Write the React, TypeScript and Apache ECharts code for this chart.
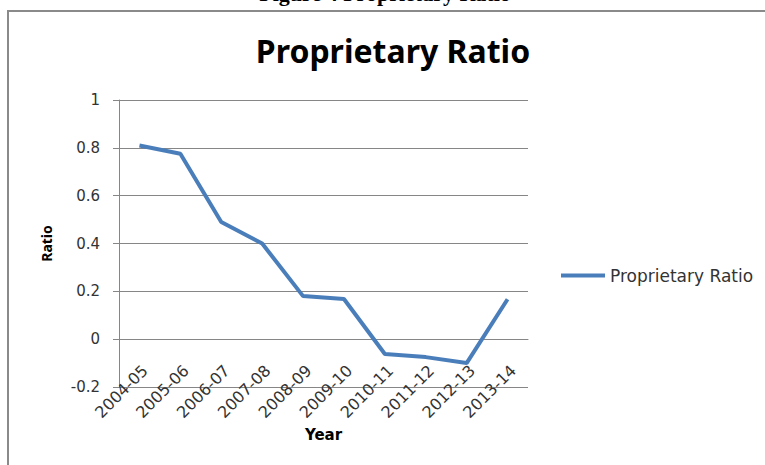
import React, { useEffect, useRef } from "react";
import * as echarts from "echarts";

const categories = ["2004-05", "2005-06", "2006-07", "2007-08", "2008-09", "2009-10", "2010-11", "2011-12", "2012-13", "2013-14"];
const ratioValues = [0.81, 0.775, 0.49, 0.4, 0.18, 0.168, -0.062, -0.075, -0.1, 0.167];
const seriesName = "Proprietary Ratio";
const chartTitle = "Proprietary Ratio";
const pageHeading = "Figure 4 Proprietary Ratio";
const yMin = -0.2;
const yMax = 1;
const yStep = 0.2;

export default function App() {
  const ref = useRef<HTMLDivElement>(null);
  useEffect(() => {
    if (!ref.current) return;
    const chart = echarts.init(ref.current, null, { renderer: "svg" });
    const font = "'Noto Sans', 'Open Sans', sans-serif";
    const labelFont = "'DejaVu Sans', 'Noto Sans', sans-serif";
    const gridTop = 100;
    const gridBottom = 78;
    const plotHeight = 465 - gridTop - gridBottom;
    // move the category axis up to the zero line (Excel-style crossing at 0)
    const zeroOffset = -plotHeight * ((0 - yMin) / (yMax - yMin));
    chart.setOption({
      animation: false,
      backgroundColor: "#ffffff",
      title: {
        text: chartTitle,
        left: 388,
        textAlign: "center",
        top: 29,
        textStyle: { fontFamily: font, fontWeight: "bold", fontSize: 32, color: "#000000" },
      },
      graphic: [
        {
          type: "rect",
          shape: { x: 8, y: 11, width: 820, height: 520 },
          style: { fill: "none", stroke: "#8a8a8a", lineWidth: 2 },
          silent: true,
        },
        {
          type: "text",
          x: 385,
          y: 4,
          style: {
            text: pageHeading,
            fontFamily: "'Liberation Serif', 'DejaVu Serif', serif",
            fontWeight: "bold",
            fontSize: 22,
            fill: "#000000",
            textAlign: "center",
            textVerticalAlign: "bottom",
          },
          silent: true,
        },
      ],
      legend: {
        data: [{ name: seriesName, icon: "rect" }],
        left: 556,
        top: 262,
        itemWidth: 44,
        itemHeight: 4,
        textStyle: { fontFamily: labelFont, fontSize: 17, color: "#333333" },
      },
      grid: { left: 119, right: 237, top: gridTop, bottom: gridBottom, containLabel: false, outerBoundsMode: "none" },
      xAxis: {
        type: "category",
        data: categories,
        boundaryGap: true,
        offset: zeroOffset,
        name: "Year",
        nameLocation: "middle",
        nameGap: 88,
        nameMoveOverlap: false,
        nameTextStyle: { fontFamily: labelFont, fontWeight: "bold", fontSize: 15, color: "#000000", verticalAlign: "top" },
        axisLine: { onZero: false, lineStyle: { color: "#868686", width: 1 } },
        axisTick: { show: false },
        axisLabel: {
          rotate: 45,
          margin: 23,
          verticalAlign: "top",
          fontFamily: labelFont,
          fontSize: 16,
          color: "#333333",
          interval: 0,
        },
        splitLine: { show: false },
      },
      yAxis: {
        type: "value",
        min: yMin,
        max: yMax,
        interval: yStep,
        name: "Ratio",
        nameLocation: "middle",
        nameGap: 66,
        nameMoveOverlap: false,
        nameTextStyle: { fontFamily: font, fontWeight: "bold", fontSize: 14, color: "#000000" },
        axisLine: { show: true, lineStyle: { color: "#868686", width: 1 } },
        axisTick: { show: true, length: 6, lineStyle: { color: "#868686" } },
        axisLabel: {
          margin: 19,
          fontFamily: labelFont,
          fontSize: 15,
          color: "#333333",
          formatter: (v: number) => String(Math.round(v * 10) / 10),
        },
        splitLine: { show: true, lineStyle: { color: "#868686", width: 1 } },
      },
      series: [
        {
          name: seriesName,
          type: "line",
          data: ratioValues,
          symbol: "none",
          lineStyle: { color: "#4a7ebb", width: 4 },
          itemStyle: { color: "#4a7ebb" },
        },
      ],
    });
    return () => chart.dispose();
  }, []);
  return <div ref={ref} style={{ position: "fixed", left: 0, top: 0, width: 765, height: 465 }} />;
}
